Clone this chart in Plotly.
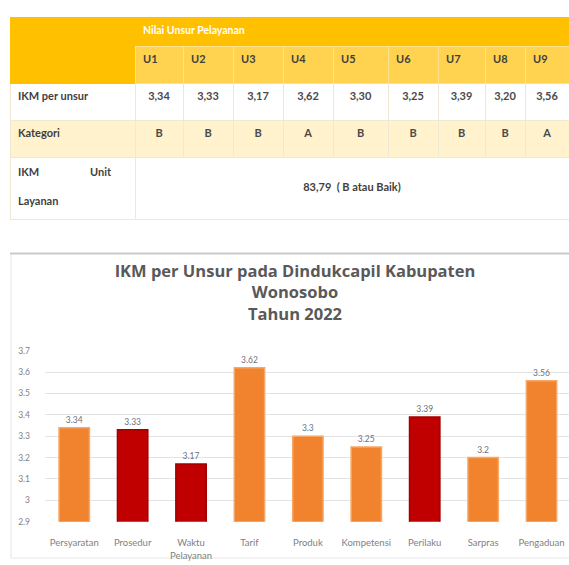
import plotly.graph_objects as go

# ---------------- data ----------------
categories = ["Persyaratan", "Prosedur", "Waktu<br>Pelayanan", "Tarif", "Produk",
              "Kompetensi", "Perilaku", "Sarpras", "Pengaduan"]
ikm_values = [3.34, 3.33, 3.17, 3.62, 3.30, 3.25, 3.39, 3.20, 3.56]
unsur_codes = ["U1", "U2", "U3", "U4", "U5", "U6", "U7", "U8", "U9"]
kategori = ["B", "B", "B", "A", "B", "B", "B", "B", "A"]
ikm_unit_value = "83,79"
ikm_unit_label = "B atau Baik"
highlighted = ["Prosedur", "Waktu<br>Pelayanan", "Perilaku"]
y_ticks = [2.9, 3.0, 3.1, 3.2, 3.3, 3.4, 3.5, 3.6, 3.7]

# ---------------- layout helpers ----------------
W, H = 569, 565
FONT = "Lato"


def fy(px):
    return (H - px) / H


def fx(px):
    return px / W


col_widths = [125, 48, 50, 50, 50, 55, 50, 47, 40, 44]
ORANGE = "#F2832E"
RED = "#C00000"
DARK = "#3F3F3F"

fig = go.Figure()

# Band row: "Nilai Unsur Pelayanan"
fig.add_trace(go.Table(
    domain=dict(x=[fx(10), 1], y=[fy(43), fy(13)]),
    columnwidth=[col_widths[0], sum(col_widths[1:])],
    header=dict(values=["", "Nilai Unsur Pelayanan"],
                fill_color="#FFC000", line_color="#FFC000", height=29,
                align="left",
                font=dict(family=FONT, size=10.5, color="white", weight="bold")),
    cells=dict(values=[[], []]),
))

# Main table: U row, IKM per unsur, Kategori
value_text = [f"{v:.2f}".replace(".", ",") for v in ikm_values]
cell_cols = [["IKM per unsur", "Kategori"]] + [[v, k] for v, k in zip(value_text, kategori)]
fig.add_trace(go.Table(
    domain=dict(x=[fx(10), 1], y=[fy(160), fy(42)]),
    columnwidth=col_widths,
    header=dict(values=[""] + unsur_codes,
                fill_color=["#FFC000"] + ["#FFD34F"] * 9,
                line_color=["#FFC000"] + ["#FFE38C"] * 9,
                height=37, align=["left"] + ["left"] * 9,
                font=dict(family=FONT, size=11, color=DARK, weight="bold")),
    cells=dict(values=cell_cols,
               fill_color=[["white", "#FFF2CC"]] * 10,
               line_color="#EFE8D3", height=37,
               align=["left"] + ["center"] * 9,
               font=dict(family=FONT, size=11, color=[DARK] + ["#4A4A4A"] * 9,
                         weight="bold")),
))

# IKM Unit Layanan row (merged)
gap = "\u00a0" * 19
fig.add_trace(go.Table(
    domain=dict(x=[fx(10), 1], y=[fy(222), fy(155)]),
    columnwidth=[col_widths[0], sum(col_widths[1:])],
    header=dict(values=["IKM" + gap + "Unit<br><br>Layanan",
                        f"\u00a0<br>{ikm_unit_value}  ( {ikm_unit_label})"],
                fill_color="white", line_color="#EFE8D3", height=62,
                align=["left", "center"],
                font=dict(family=FONT, size=11, color=DARK, weight="bold")),
    cells=dict(values=[[], []]),
))

# ---------------- bar chart ----------------
bar_colors = [RED if c in highlighted else ORANGE for c in categories]
edge_colors = ["#A00000" if c in highlighted else "#F6A766" for c in categories]
fig.add_trace(go.Bar(
    x=categories, y=ikm_values,
    marker=dict(color=bar_colors, line=dict(color=edge_colors, width=1.5)),
    width=0.52,
    text=ikm_values, texttemplate="%{y}", textposition="outside",
    textfont=dict(family=FONT, size=8.5, color="#6B7280"),
    cliponaxis=False,
    xaxis="x", yaxis="y",
))

fig.update_layout(
    width=W, height=H,
    margin=dict(l=0, r=0, t=0, b=0),
    paper_bgcolor="white", plot_bgcolor="white",
    showlegend=False,
    font=dict(family=FONT, color="#7F7F7F"),
    title=dict(text="IKM per Unsur pada Dindukcapil Kabupaten<br>Wonosobo<br>Tahun 2022",
               x=fx(295), xanchor="center", xref="container",
               y=fy(277), yanchor="top", yref="container",
               font=dict(family="Open Sans", size=16.5, color="#595959", weight="bold")),
    xaxis=dict(domain=[fx(45), 1], range=[-0.5, 8.47], showgrid=False,
               showline=False, ticks="", ticklabelstandoff=14,
               tickfont=dict(family=FONT, size=9.5, color="#7F7F7F"), fixedrange=True),
    yaxis=dict(domain=[fy(526), fy(352)], range=[2.9, 3.7], tickvals=y_ticks,
               showgrid=True, gridcolor="#E3E3E3", gridwidth=1, zeroline=False,
               showline=False, ticks="", ticklabelstandoff=14,
               tickfont=dict(family=FONT, size=8.5, color="#7F7F7F"), fixedrange=True),
    shapes=[
        dict(type="rect", xref="paper", yref="paper", x0=fx(11), x1=1.01,
             y0=fy(563), y1=fy(253), line=dict(color="#E6E6E6", width=1), layer="below"),
        dict(type="line", xref="paper", yref="paper", x0=fx(10), x1=1,
             y0=fy(253), y1=fy(253), line=dict(color="#C9C9C9", width=2)),
    ],
)

fig.write_html("out.html", config={"displayModeBar": False},
               post_script="document.body.style.margin='0';document.body.style.overflow='hidden';")
